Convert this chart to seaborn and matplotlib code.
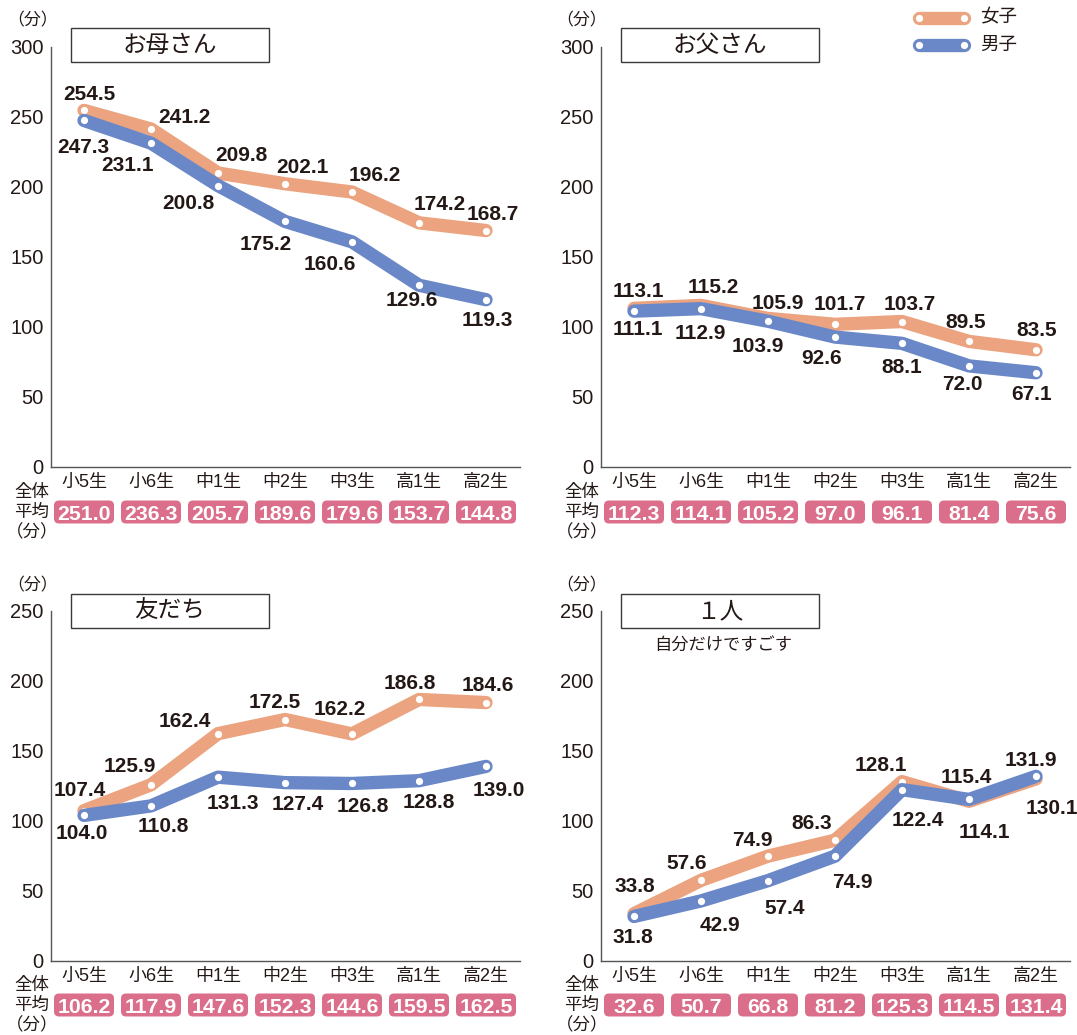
import matplotlib
matplotlib.use("Agg")
import matplotlib.pyplot as plt
import seaborn as sns
import pandas as pd
from matplotlib.patches import FancyBboxPatch, Rectangle
from matplotlib.lines import Line2D
from matplotlib.transforms import IdentityTransform

# ---- data -------------------------------------------------------------
grades = ["小5生", "小6生", "中1生", "中2生", "中3生", "高1生", "高2生"]
sexes = ["女子", "男子"]

mother_girls = [254.5, 241.2, 209.8, 202.1, 196.2, 174.2, 168.7]
mother_boys = [247.3, 231.1, 200.8, 175.2, 160.6, 129.6, 119.3]
mother_avg = [251.0, 236.3, 205.7, 189.6, 179.6, 153.7, 144.8]

father_girls = [113.1, 115.2, 105.9, 101.7, 103.7, 89.5, 83.5]
father_boys = [111.1, 112.9, 103.9, 92.6, 88.1, 72.0, 67.1]
father_avg = [112.3, 114.1, 105.2, 97.0, 96.1, 81.4, 75.6]

friends_girls = [107.4, 125.9, 162.4, 172.5, 162.2, 186.8, 184.6]
friends_boys = [104.0, 110.8, 131.3, 127.4, 126.8, 128.8, 139.0]
friends_avg = [106.2, 117.9, 147.6, 152.3, 144.6, 159.5, 162.5]

alone_girls = [33.8, 57.6, 74.9, 86.3, 128.1, 114.1, 130.1]
alone_boys = [31.8, 42.9, 57.4, 74.9, 122.4, 115.4, 131.9]
alone_avg = [32.6, 50.7, 66.8, 81.2, 125.3, 114.5, 131.4]

# ---- label placement (pixel offsets from each point, up is positive) --
mother_girls_off = [(5, 18), (33, 14), (23, 19.5), (17, 18), (23, 19), (21, 20), (7, 18)]
mother_boys_off = [(-1, -25), (-23, -20), (-30, -16), (-19, -21), (-22, -21), (-7, -13), (1, -19)]
father_girls_off = [(4, 19), (12, 20), (10, 17), (5, 22), (8, 19), (-3, 21), (1, 21)]
father_boys_off = [(4, -16), (-1, -23), (-10, -23), (-13, -19), (0, -22), (-7, -17), (-4, -20)]
friends_girls_off = [(-4, 22), (-21, 20), (-33, 14), (-10, 19.5), (-12, 26), (-9, 18), (2, 19)]
friends_boys_off = [(-2, -16), (12, -19), (15, -24), (13, -20), (11, -21), (10, -20), (13, -22)]
alone_girls_off = [(1, 29), (-14, 19), (-16, 17.5), (-23, 19), (-21, 18), (15, -29), (16, -27.5)]
alone_boys_off = [(-1, -19), (19, -22.5), (17, -26), (17, -24), (16, -29), (-3, 24), (-5, 18)]

# ---- style ------------------------------------------------------------
W, H = 1077, 1035
DPI = 100
ORANGE = "#EBA47F"
BLUE = "#6A88C7"
PINK = "#DB6F8B"
INK = "#231815"
AXIS = "#555555"
palette = {"女子": ORANGE, "男子": BLUE}

sns.set_style("white")
plt.rcParams["font.family"] = ["Liberation Sans", "Noto Sans CJK JP"]
plt.rcParams["text.color"] = INK

fig = plt.figure(figsize=(W / DPI, H / DPI), dpi=DPI)
PIX = IdentityTransform()


def disp(x, y_top):
    """Pixel position measured from the top-left corner -> display coords."""
    return x, H - y_top


def rect(left, top, right, bottom):
    return [left / W, 1 - bottom / H, (right - left) / W, (bottom - top) / H]


def panel(box, ymax, girls, boys, avg, goff, boff, title, avg_y, subtitle=None,
          title_box=None, unit_xy=None, avg_label_x=None):
    ax = fig.add_axes(rect(*box))
    df = pd.DataFrame({
        "pos": list(range(len(grades))) * 2,
        "学年": grades * 2,
        "性別": [sexes[0]] * len(grades) + [sexes[1]] * len(grades),
        "分": girls + boys,
    })
    sns.lineplot(data=df, x="pos", y="分", hue="性別", hue_order=sexes,
                 palette=palette, linewidth=9.6, marker="o", markersize=5.2,
                 markerfacecolor="white", markeredgewidth=0, legend=False,
                 sort=False, ax=ax, solid_capstyle="round",
                 solid_joinstyle="round")
    ax.set_xlim(-0.5, len(grades) - 0.5)
    ax.set_ylim(0, ymax)
    ax.set_xlabel("")
    ax.set_ylabel("")
    ax.set_yticks(range(0, ymax + 1, 50))
    ax.set_xticks(range(len(grades)))
    ax.set_xticklabels(grades)
    for s in ("top", "right"):
        ax.spines[s].set_visible(False)
    for s in ("left", "bottom"):
        ax.spines[s].set_color(AXIS)
        ax.spines[s].set_linewidth(1.0)
    ax.tick_params(axis="y", direction="in", length=7.5, width=1.0, color=AXIS,
                   labelsize=14.5, pad=5, labelcolor=INK)
    ax.tick_params(axis="x", direction="in", length=7.5, width=1.0, color=AXIS,
                   labelsize=13, pad=5, labelcolor=INK)
    ax.patch.set_alpha(0)

    # value labels
    for vals, offs in ((girls, goff), (boys, boff)):
        for i, (v, (dx, dy)) in enumerate(zip(vals, offs)):
            ax.annotate(f"{v:.1f}", (i, v), xytext=(dx, dy - 7.5),
                        textcoords="offset pixels", ha="center", va="baseline",
                        fontsize=15, fontweight="bold", color=INK,
                        annotation_clip=False)

    # overall average badges
    for i, v in enumerate(avg):
        cx = ax.transData.transform((i, 0))[0]
        _, cy = disp(0, avg_y)
        fig.add_artist(FancyBboxPatch((cx - 30, cy - 11.5), 60, 23,
                                      boxstyle="round,pad=0,rounding_size=5",
                                      transform=PIX, fc=PINK, ec="none"))
        fig.text(cx, cy - 0.5, f"{v:.1f}", transform=PIX, ha="center",
                 va="center_baseline", fontsize=15.3, fontweight="bold",
                 color="white")
    for k, s in enumerate(["全体", "平均", "（分）"]):
        fig.text(*disp(avg_label_x, avg_y - 20 + 20 * k), s, transform=PIX,
                 ha="center", va="center", fontsize=12.6, color=INK)

    # unit
    fig.text(*disp(*unit_xy), "（分）", transform=PIX, ha="center", va="center",
             fontsize=12.2, color=INK)

    # title box
    l, t, r, b = title_box
    x0, y0 = disp(l, b)
    fig.add_artist(Rectangle((x0, y0), r - l, b - t, transform=PIX,
                             fc="white", ec="#3a3a3a", lw=1.0))
    fig.text(*disp((l + r) / 2, (t + b) / 2 + 1), title, transform=PIX,
             ha="center", va="center", fontsize=17, color=INK)
    if subtitle:
        fig.text(*disp((l + r) / 2 + 3, b + 17), subtitle, transform=PIX,
                 ha="center", va="center", fontsize=12.4, color=INK)
    return ax


panel((50.5, 46.7, 519.5, 466.7), 300, mother_girls, mother_boys, mother_avg,
      mother_girls_off, mother_boys_off, "お母さん", avg_y=512,
      title_box=(71, 28, 269, 62), unit_xy=(33, 20), avg_label_x=32)
panel((600.5, 46.7, 1069.5, 466.7), 300, father_girls, father_boys, father_avg,
      father_girls_off, father_boys_off, "お父さん", avg_y=512,
      title_box=(621, 28, 819, 62), unit_xy=(582, 20), avg_label_x=582)
panel((50.5, 611, 519.5, 961), 250, friends_girls, friends_boys, friends_avg,
      friends_girls_off, friends_boys_off, "友だち", avg_y=1005,
      title_box=(71, 594, 269, 628), unit_xy=(33, 585), avg_label_x=32)
panel((600.5, 611, 1069.5, 961), 250, alone_girls, alone_boys, alone_avg,
      alone_girls_off, alone_boys_off, "１人", avg_y=1005,
      subtitle="自分だけですごす",
      title_box=(621, 594, 819, 628), unit_xy=(582, 585), avg_label_x=582)

# legend: thick rounded bars with white dots at both ends
for k, s in enumerate(sexes):
    y = 18 + 27 * k
    xs = [918.5, 963.5]
    ys = [H - y, H - y]
    fig.add_artist(Line2D(xs, ys, transform=PIX, color=palette[s], lw=9.6,
                          solid_capstyle="round"))
    fig.add_artist(Line2D(xs, ys, transform=PIX, ls="none", marker="o",
                          markersize=5.2, markerfacecolor="white",
                          markeredgewidth=0))
    fig.text(*disp(980, y), s, transform=PIX, ha="left", va="center",
             fontsize=13.3, color=INK)

fig.savefig("out.png", dpi=DPI)
